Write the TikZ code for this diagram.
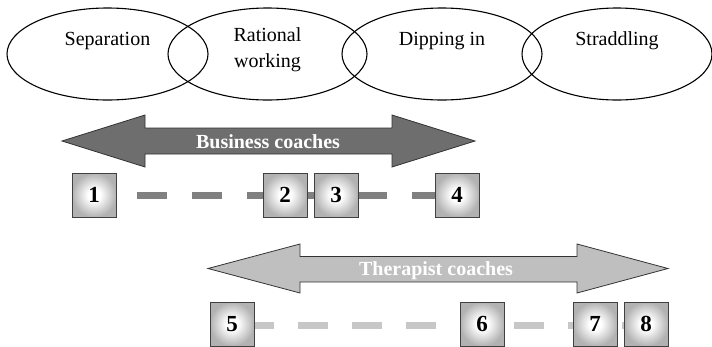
\documentclass[tikz,border=0pt]{standalone}
\usepackage{fontspec}
\setmainfont{Liberation Serif}
\usetikzlibrary{shapes.geometric,backgrounds}

\pgfdeclareradialshading{boxglow}{\pgfpoint{0bp}{0bp}}{%
  color(0bp)=(white); color(7bp)=(white); color(25bp)=(black!30); color(50bp)=(black!30)}

\begin{document}
\begin{tikzpicture}[x=1pt,y=-1pt,
  stage/.style={ellipse,draw,line width=1.1pt,minimum height=92pt,inner sep=0pt},
  stagetext/.style={align=center,font=\fontsize{20}{26}\selectfont},
  numbox/.style={draw=black!75,line width=1pt,minimum size=44pt,inner sep=0pt,
    shading=boxglow,font=\bfseries\fontsize{23}{23}\selectfont},
  bigarrow/.style={draw=black!80,line width=0.8pt},
  arrowtext/.style={text=white,font=\bfseries\fontsize{20}{20}\selectfont},
  dashline/.style={line width=7pt,dash pattern=on 30pt off 25pt}]

  \useasboundingbox (0,0) rectangle (712,346);

  % Stages
  \node[stage,minimum width=201pt] (sep) at (107.5,54) {};
  \node[stage,minimum width=199pt] (rat) at (267.5,54) {};
  \node[stage,minimum width=200pt] (dip) at (442,54) {};
  \node[stage,minimum width=190pt] (str) at (617,54) {};
  \node[stagetext] (septext) at ([yshift=13pt]sep.center) {Separation};
  \node[stagetext] (rattext) at ([yshift=4pt]rat.center) {Rational\\working};
  \node[stagetext] (diptext) at ([yshift=13pt]dip.center) {Dipping in};
  \node[stagetext] (strtext) at ([yshift=13pt]str.center) {Straddling};

  % Business coaches
  \draw[bigarrow,fill=black!57] (62,141) -- (145,115) -- (145,128) -- (392,128)
    -- (392,115) -- (475,141) -- (392,167) -- (392,154) -- (145,154)
    -- (145,167) -- cycle;
  \node[arrowtext] (biz) at (268,142) {Business coaches};

  \node[numbox] (b1) at (94,195) {1};
  \node[numbox] (b2) at (285,195) {2};
  \node[numbox] (b3) at (336,195) {3};
  \node[numbox] (b4) at (457,195) {4};

  % Therapist coaches
  \draw[bigarrow,fill=black!25] (208,268.5) -- (300,244) -- (300,256.5) -- (577,256.5)
    -- (577,244) -- (668,268.5) -- (577,293) -- (577,282) -- (300,282)
    -- (300,293) -- cycle;
  \node[arrowtext] (ther) at (436,271) {Therapist coaches};

  \node[numbox] (b5) at (232,324) {5};
  \node[numbox] (b6) at (482,324) {6};
  \node[numbox] (b7) at (595,324) {7};
  \node[numbox] (b8) at (646,324) {8};

  % dashed tracks behind the boxes
  \begin{scope}[on background layer]
    \draw[dashline,black!50,dash phase=35pt] (b1.east) -- (b4.west);
    \draw[dashline,black!22,dash pattern=on 30pt off 24pt,dash phase=11pt]
      ([yshift=-1pt]b5.east) -- ([yshift=-1pt]b8.west);
  \end{scope}

\end{tikzpicture}
\end{document}
